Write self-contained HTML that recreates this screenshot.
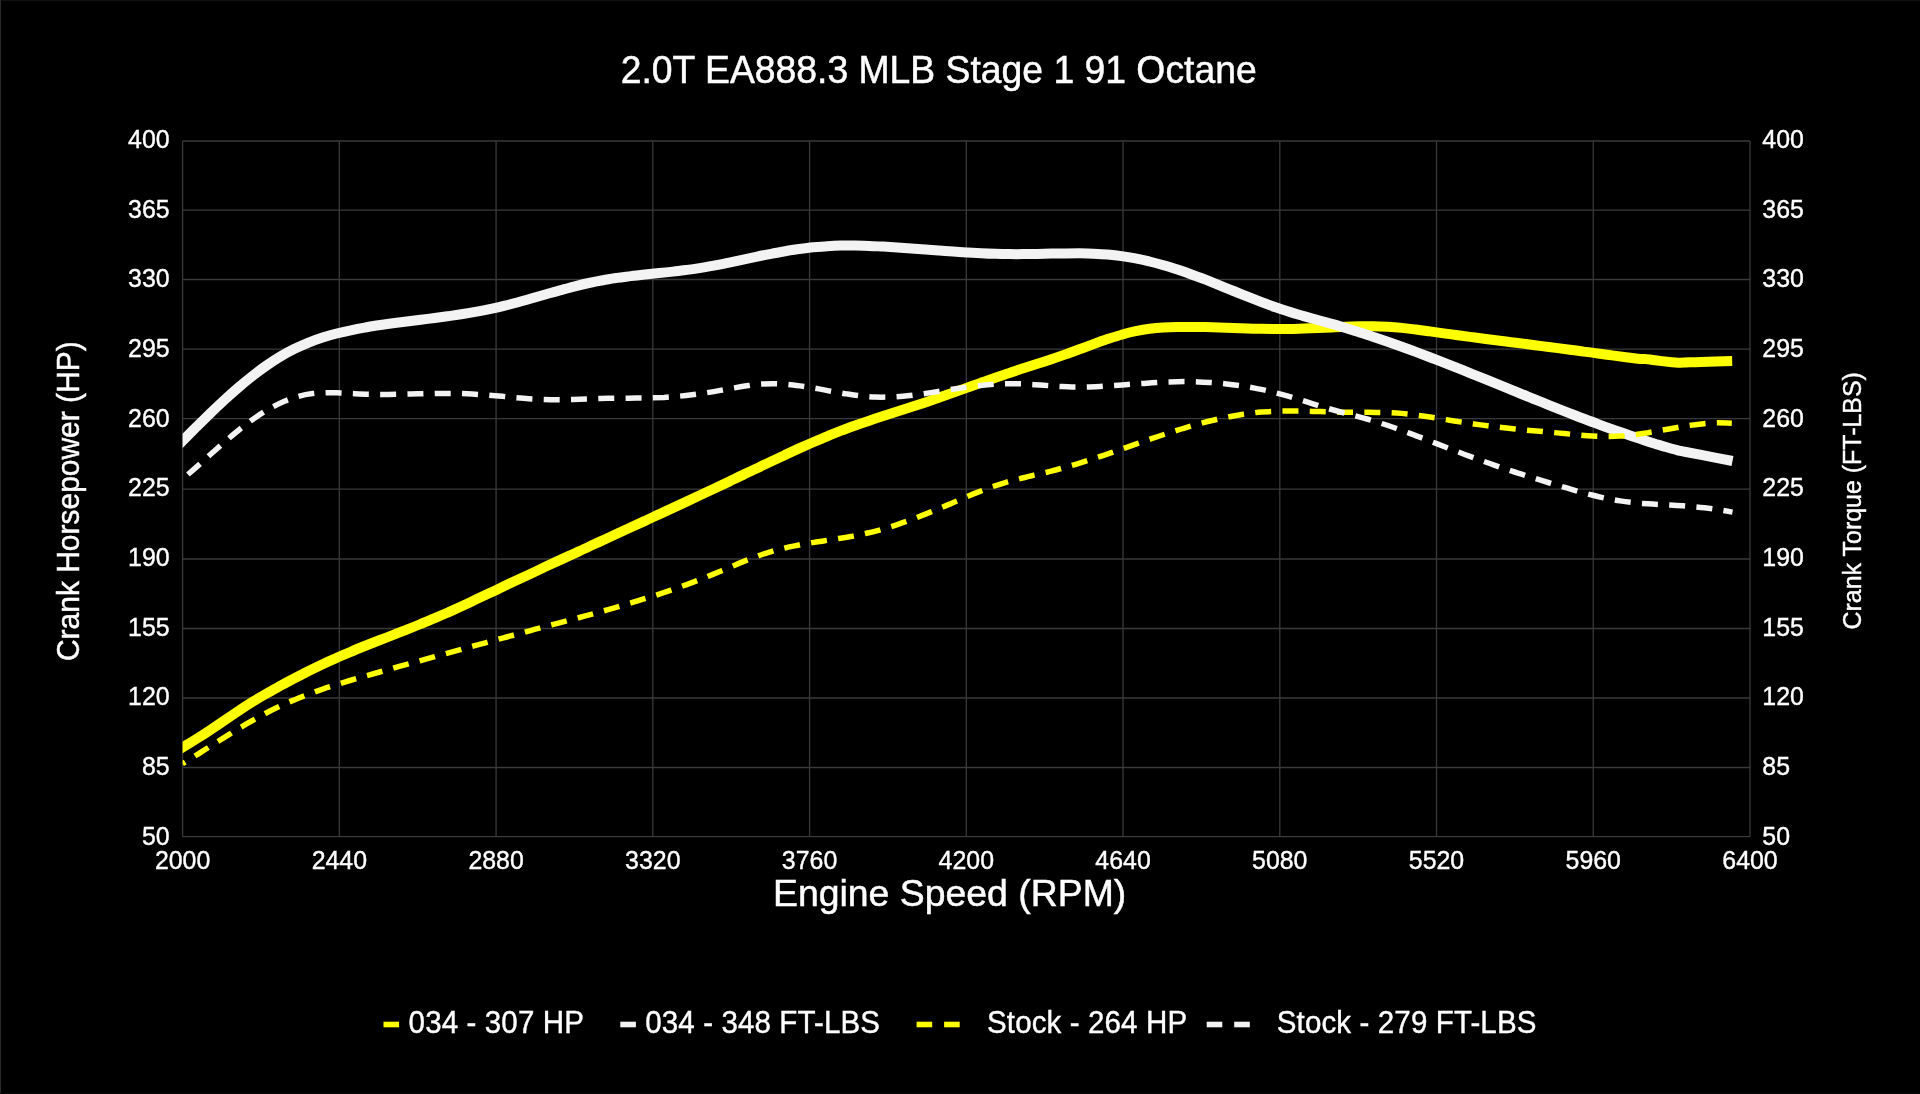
<!DOCTYPE html>
<html lang="en">
<head>
<meta charset="utf-8">
<title>2.0T EA888.3 MLB Stage 1 91 Octane</title>
<style>
html,body{margin:0;padding:0;background:#000;width:1920px;height:1094px;overflow:hidden}
svg{display:block;position:absolute;left:0;top:0;will-change:transform;filter:blur(0.45px)}
text{font-family:"Liberation Sans",sans-serif;fill:#fff}
.grid line{stroke:#3a3a3a;stroke-width:1.3}
.curve path{fill:none;stroke-linecap:butt;stroke-linejoin:round}
</style>
</head>
<body>
<svg width="1920" height="1094" viewBox="0 0 1920 1094" role="img" aria-label="Dyno chart: 2.0T EA888.3 MLB Stage 1 91 Octane">
<rect x="0" y="0" width="1920" height="1094" fill="#000"/>
<rect x="0" y="0" width="1920" height="1" fill="#111111"/>
<rect x="0" y="0" width="1" height="1094" fill="#2a2a2a"/>
<rect x="0" y="1093" width="1920" height="1" fill="#080808"/>
<g class="grid">
<line x1="182.60" y1="141.0" x2="182.60" y2="836.7"/>
<line x1="339.34" y1="141.0" x2="339.34" y2="836.7"/>
<line x1="496.08" y1="141.0" x2="496.08" y2="836.7"/>
<line x1="652.82" y1="141.0" x2="652.82" y2="836.7"/>
<line x1="809.56" y1="141.0" x2="809.56" y2="836.7"/>
<line x1="966.30" y1="141.0" x2="966.30" y2="836.7"/>
<line x1="1123.04" y1="141.0" x2="1123.04" y2="836.7"/>
<line x1="1279.78" y1="141.0" x2="1279.78" y2="836.7"/>
<line x1="1436.52" y1="141.0" x2="1436.52" y2="836.7"/>
<line x1="1593.26" y1="141.0" x2="1593.26" y2="836.7"/>
<line x1="1750.00" y1="141.0" x2="1750.00" y2="836.7"/>
<line x1="182.6" y1="141.00" x2="1750.0" y2="141.00"/>
<line x1="182.6" y1="210.10" x2="1750.0" y2="210.10"/>
<line x1="182.6" y1="279.50" x2="1750.0" y2="279.50"/>
<line x1="182.6" y1="349.20" x2="1750.0" y2="349.20"/>
<line x1="182.6" y1="418.60" x2="1750.0" y2="418.60"/>
<line x1="182.6" y1="489.20" x2="1750.0" y2="489.20"/>
<line x1="182.6" y1="559.00" x2="1750.0" y2="559.00"/>
<line x1="182.6" y1="628.50" x2="1750.0" y2="628.50"/>
<line x1="182.6" y1="698.00" x2="1750.0" y2="698.00"/>
<line x1="182.6" y1="767.50" x2="1750.0" y2="767.50"/>
<line x1="182.6" y1="836.70" x2="1750.0" y2="836.70"/>
</g>
<defs><clipPath id="pc"><rect x="182.6" y="141.0" width="1567.4" height="695.7"/></clipPath></defs>
<g class="curve" clip-path="url(#pc)">
<path d="M170.5,754.8C172.5,753.5 178.2,750.1 182.5,747.5C186.8,744.8 191.8,741.9 196.5,738.9C201.2,736.0 205.9,732.9 210.5,729.8C215.2,726.7 219.9,723.5 224.5,720.3C229.2,717.2 233.9,714.0 238.6,710.9C243.2,707.8 247.9,704.7 252.6,701.8C257.2,698.9 261.9,696.2 266.6,693.5C271.3,690.8 275.9,688.3 280.6,685.7C285.3,683.2 289.9,680.7 294.6,678.3C299.3,675.8 304.0,673.4 308.6,671.0C313.3,668.7 318.0,666.4 322.6,664.2C327.3,661.9 332.0,659.8 336.7,657.8C341.3,655.7 346.0,653.7 350.7,651.8C355.3,649.8 360.0,647.9 364.7,646.0C369.4,644.2 374.0,642.3 378.7,640.5C383.4,638.7 388.0,636.9 392.7,635.1C397.4,633.2 402.1,631.4 406.7,629.6C411.4,627.8 416.1,625.9 420.7,624.0C425.4,622.1 430.1,620.2 434.8,618.2C439.4,616.2 444.1,614.1 448.8,612.1C453.4,610.0 458.1,607.8 462.8,605.7C467.5,603.5 472.1,601.3 476.8,599.1C481.5,596.9 486.1,594.7 490.8,592.5C495.5,590.2 500.2,588.0 504.8,585.8C509.5,583.6 514.2,581.4 518.8,579.2C523.5,577.0 528.2,574.8 532.9,572.7C537.5,570.5 542.2,568.3 546.9,566.1C551.5,564.0 556.2,561.8 560.9,559.6C565.6,557.5 570.2,555.3 574.9,553.2C579.6,551.0 584.2,548.8 588.9,546.7C593.6,544.5 598.3,542.4 602.9,540.2C607.6,538.1 612.3,535.9 616.9,533.8C621.6,531.6 626.3,529.5 631.0,527.3C635.6,525.2 640.3,523.0 645.0,520.9C649.6,518.7 654.3,516.6 659.0,514.4C663.7,512.2 668.3,510.1 673.0,507.9C677.7,505.7 682.3,503.6 687.0,501.4C691.7,499.2 696.4,497.0 701.0,494.8C705.7,492.6 710.4,490.4 715.0,488.2C719.7,486.0 724.4,483.8 729.1,481.6C733.7,479.4 738.4,477.1 743.1,474.9C747.7,472.7 752.4,470.4 757.1,468.2C761.8,465.9 766.4,463.7 771.1,461.5C775.8,459.3 780.4,457.1 785.1,454.9C789.8,452.7 794.5,450.5 799.1,448.4C803.8,446.3 808.5,444.2 813.1,442.2C817.8,440.2 822.5,438.2 827.2,436.3C831.8,434.3 836.5,432.5 841.2,430.7C845.8,428.9 850.5,427.2 855.2,425.5C859.9,423.8 864.5,422.2 869.2,420.7C873.9,419.1 878.5,417.6 883.2,416.1C887.9,414.6 892.6,413.1 897.2,411.6C901.9,410.1 906.6,408.6 911.2,407.1C915.9,405.5 920.6,404.0 925.3,402.4C929.9,400.8 934.6,399.2 939.3,397.5C944.0,395.9 948.6,394.2 953.3,392.6C958.0,390.9 962.6,389.3 967.3,387.6C972.0,385.9 976.7,384.3 981.3,382.6C986.0,381.0 990.7,379.3 995.3,377.7C1000.0,376.1 1004.7,374.5 1009.4,373.0C1014.0,371.4 1018.7,369.9 1023.4,368.3C1028.0,366.8 1032.7,365.3 1037.4,363.8C1042.1,362.3 1046.7,360.8 1051.4,359.2C1056.1,357.7 1060.7,356.1 1065.4,354.4C1070.1,352.8 1074.8,351.0 1079.4,349.3C1084.1,347.6 1088.8,345.8 1093.4,344.1C1098.1,342.4 1102.8,340.7 1107.5,339.1C1112.1,337.6 1116.8,336.0 1121.5,334.7C1126.1,333.3 1130.8,332.1 1135.5,331.1C1140.2,330.2 1144.8,329.4 1149.5,328.8C1154.2,328.2 1158.8,327.8 1163.5,327.5C1168.2,327.2 1172.9,327.1 1177.5,327.0C1182.2,326.9 1186.9,326.9 1191.5,326.9C1196.2,326.9 1200.9,327.0 1205.6,327.1C1210.2,327.2 1214.9,327.4 1219.6,327.5C1224.2,327.6 1228.9,327.8 1233.6,328.0C1238.3,328.1 1242.9,328.3 1247.6,328.4C1252.3,328.6 1256.9,328.7 1261.6,328.8C1266.3,328.9 1271.0,329.0 1275.6,329.0C1280.3,329.0 1285.0,329.0 1289.6,328.9C1294.3,328.9 1299.0,328.7 1303.7,328.6C1308.3,328.4 1313.0,328.2 1317.7,328.0C1322.3,327.8 1327.0,327.6 1331.7,327.4C1336.4,327.1 1341.0,326.9 1345.7,326.7C1350.4,326.5 1355.0,326.4 1359.7,326.3C1364.4,326.2 1369.1,326.1 1373.7,326.2C1378.4,326.3 1383.1,326.5 1387.7,326.7C1392.4,327.0 1397.1,327.4 1401.8,327.9C1406.4,328.4 1411.1,329.0 1415.8,329.5C1420.4,330.1 1425.1,330.8 1429.8,331.4C1434.5,332.1 1439.1,332.7 1443.8,333.4C1448.5,334.0 1453.1,334.6 1457.8,335.3C1462.5,335.9 1467.2,336.5 1471.8,337.1C1476.5,337.7 1481.2,338.4 1485.8,339.0C1490.5,339.6 1495.2,340.2 1499.9,340.8C1504.5,341.4 1509.2,342.0 1513.9,342.5C1518.5,343.1 1523.2,343.7 1527.9,344.3C1532.6,344.9 1537.2,345.5 1541.9,346.1C1546.6,346.7 1551.2,347.3 1555.9,347.9C1560.6,348.5 1565.3,349.1 1569.9,349.7C1574.6,350.3 1579.3,350.9 1583.9,351.6C1588.6,352.2 1593.3,352.8 1598.0,353.5C1602.6,354.1 1607.3,354.7 1612.0,355.4C1616.6,356.0 1621.3,356.6 1626.0,357.2C1630.7,357.8 1636.8,358.6 1640.0,358.9C1643.2,359.2 1641.7,358.7 1645.0,359.0C1648.3,359.3 1655.5,360.4 1660.0,360.9C1664.5,361.4 1669.0,361.9 1672.0,362.2C1675.0,362.5 1676.0,362.6 1678.0,362.7C1680.0,362.8 1680.2,362.6 1684.0,362.5C1687.8,362.4 1693.0,362.1 1701.0,361.9C1709.0,361.6 1727.0,361.1 1732.2,361.0" stroke="#fdfd04" stroke-width="10"/>
<path d="M170.5,453.0C172.5,451.0 178.2,445.3 182.5,440.9C186.8,436.6 191.8,431.5 196.5,426.8C201.2,422.2 205.9,417.6 210.5,413.1C215.2,408.6 219.9,404.2 224.5,399.9C229.2,395.6 233.9,391.4 238.6,387.4C243.2,383.4 247.9,379.6 252.6,375.9C257.2,372.2 261.9,368.7 266.6,365.5C271.3,362.2 275.9,359.2 280.6,356.4C285.3,353.6 289.9,351.1 294.6,348.8C299.3,346.5 304.0,344.5 308.6,342.6C313.3,340.7 318.0,339.1 322.6,337.6C327.3,336.1 332.0,334.7 336.7,333.5C341.3,332.3 346.0,331.2 350.7,330.3C355.3,329.3 360.0,328.4 364.7,327.6C369.4,326.8 374.0,326.0 378.7,325.3C383.4,324.6 388.0,324.0 392.7,323.3C397.4,322.7 402.1,322.1 406.7,321.5C411.4,320.9 416.1,320.3 420.7,319.7C425.4,319.1 430.1,318.6 434.8,318.0C439.4,317.4 444.1,316.7 448.8,316.1C453.4,315.4 458.1,314.7 462.8,314.0C467.5,313.3 472.1,312.5 476.8,311.6C481.5,310.8 486.1,309.9 490.8,308.9C495.5,307.9 500.2,306.8 504.8,305.6C509.5,304.5 514.2,303.2 518.8,302.0C523.5,300.7 528.2,299.4 532.9,298.0C537.5,296.7 542.2,295.3 546.9,294.0C551.5,292.7 556.2,291.3 560.9,290.1C565.6,288.8 570.2,287.5 574.9,286.3C579.6,285.1 584.2,284.0 588.9,283.0C593.6,281.9 598.3,281.0 602.9,280.2C607.6,279.3 612.3,278.6 616.9,277.9C621.6,277.2 626.3,276.7 631.0,276.1C635.6,275.5 640.3,275.0 645.0,274.5C649.6,274.0 654.3,273.6 659.0,273.1C663.7,272.6 668.3,272.1 673.0,271.6C677.7,271.1 682.3,270.5 687.0,269.9C691.7,269.3 696.4,268.6 701.0,267.9C705.7,267.1 710.4,266.3 715.0,265.4C719.7,264.5 724.4,263.6 729.1,262.6C733.7,261.6 738.4,260.6 743.1,259.6C747.7,258.6 752.4,257.6 757.1,256.6C761.8,255.6 766.4,254.7 771.1,253.8C775.8,252.8 780.4,252.0 785.1,251.2C789.8,250.4 794.5,249.7 799.1,249.0C803.8,248.4 808.5,247.8 813.1,247.3C817.8,246.9 822.5,246.5 827.2,246.2C831.8,245.9 836.5,245.7 841.2,245.6C845.8,245.5 850.5,245.5 855.2,245.6C859.9,245.7 864.5,245.8 869.2,246.0C873.9,246.1 878.5,246.4 883.2,246.6C887.9,246.9 892.6,247.2 897.2,247.5C901.9,247.8 906.6,248.1 911.2,248.4C915.9,248.8 920.6,249.1 925.3,249.5C929.9,249.8 934.6,250.2 939.3,250.5C944.0,250.9 948.6,251.2 953.3,251.5C958.0,251.9 962.6,252.2 967.3,252.5C972.0,252.7 976.7,253.0 981.3,253.2C986.0,253.5 990.7,253.7 995.3,253.8C1000.0,254.0 1004.7,254.1 1009.4,254.1C1014.0,254.2 1018.7,254.2 1023.4,254.1C1028.0,254.1 1032.7,254.0 1037.4,253.9C1042.1,253.8 1046.7,253.7 1051.4,253.6C1056.1,253.5 1060.7,253.4 1065.4,253.4C1070.1,253.3 1074.8,253.3 1079.4,253.3C1084.1,253.4 1088.8,253.5 1093.4,253.7C1098.1,253.9 1102.8,254.1 1107.5,254.5C1112.1,254.9 1116.8,255.4 1121.5,256.1C1126.1,256.7 1130.8,257.5 1135.5,258.4C1140.2,259.3 1144.8,260.4 1149.5,261.5C1154.2,262.6 1158.8,263.9 1163.5,265.3C1168.2,266.6 1172.9,268.1 1177.5,269.6C1182.2,271.2 1186.9,272.8 1191.5,274.5C1196.2,276.1 1200.9,277.9 1205.6,279.7C1210.2,281.5 1214.9,283.4 1219.6,285.3C1224.2,287.1 1228.9,289.1 1233.6,291.0C1238.3,292.9 1242.9,294.8 1247.6,296.7C1252.3,298.5 1256.9,300.4 1261.6,302.2C1266.3,304.0 1271.0,305.7 1275.6,307.3C1280.3,308.9 1285.0,310.5 1289.6,311.9C1294.3,313.4 1299.0,314.7 1303.7,316.1C1308.3,317.4 1313.0,318.7 1317.7,320.0C1322.3,321.3 1327.0,322.6 1331.7,323.9C1336.4,325.2 1341.0,326.6 1345.7,328.0C1350.4,329.4 1355.0,330.9 1359.7,332.4C1364.4,333.8 1369.1,335.4 1373.7,336.9C1378.4,338.5 1383.1,340.1 1387.7,341.7C1392.4,343.4 1397.1,345.0 1401.8,346.7C1406.4,348.4 1411.1,350.2 1415.8,351.9C1420.4,353.6 1425.1,355.4 1429.8,357.2C1434.5,359.0 1439.1,360.8 1443.8,362.6C1448.5,364.5 1453.1,366.3 1457.8,368.2C1462.5,370.0 1467.2,371.9 1471.8,373.8C1476.5,375.6 1481.2,377.5 1485.8,379.4C1490.5,381.3 1495.2,383.2 1499.9,385.1C1504.5,387.0 1509.2,388.9 1513.9,390.8C1518.5,392.8 1523.2,394.7 1527.9,396.6C1532.6,398.5 1537.2,400.4 1541.9,402.2C1546.6,404.1 1551.2,406.0 1555.9,407.9C1560.6,409.7 1565.3,411.6 1569.9,413.4C1574.6,415.2 1579.3,417.1 1583.9,418.8C1588.6,420.6 1593.3,422.4 1598.0,424.1C1602.6,425.9 1607.3,427.6 1612.0,429.2C1616.6,430.9 1621.3,432.5 1626.0,434.1C1630.7,435.7 1635.6,437.3 1640.0,438.8C1644.4,440.3 1648.2,441.7 1652.5,443.1C1656.8,444.5 1662.2,445.9 1666.0,447.0C1669.8,448.1 1672.7,448.9 1675.0,449.5C1677.3,450.1 1678.2,450.4 1680.0,450.8C1681.8,451.2 1682.2,451.3 1686.0,452.0C1689.8,452.7 1694.8,453.7 1702.5,455.2C1710.2,456.7 1727.5,460.0 1732.5,461.0" stroke="#f3f3f3" stroke-width="10"/>
<path d="M182.5,763.7C184.8,762.3 191.8,758.0 196.5,755.0C201.1,752.1 205.8,749.2 210.4,746.2C215.1,743.3 219.7,740.3 224.4,737.4C229.0,734.5 233.7,731.6 238.3,728.8C243.0,726.0 247.6,723.3 252.3,720.6C256.9,718.0 261.6,715.4 266.2,713.0C270.9,710.5 275.6,708.2 280.2,706.1C284.9,703.9 289.5,701.8 294.2,699.9C298.8,697.9 303.5,696.1 308.1,694.4C312.8,692.6 317.4,690.9 322.1,689.3C326.7,687.7 331.4,686.2 336.0,684.8C340.7,683.3 345.3,681.9 350.0,680.5C354.6,679.1 359.3,677.8 363.9,676.4C368.6,675.1 373.3,673.8 377.9,672.5C382.6,671.2 387.2,669.9 391.9,668.6C396.5,667.2 401.2,665.9 405.8,664.7C410.5,663.4 415.1,662.1 419.8,660.8C424.4,659.5 429.1,658.2 433.7,656.9C438.4,655.6 443.0,654.3 447.7,653.1C452.3,651.8 457.0,650.5 461.7,649.2C466.3,648.0 471.0,646.7 475.6,645.4C480.3,644.2 484.9,642.9 489.6,641.6C494.2,640.4 498.9,639.1 503.5,637.8C508.2,636.6 512.8,635.3 517.5,634.1C522.1,632.8 526.8,631.6 531.4,630.3C536.1,629.1 540.7,627.8 545.4,626.6C550.1,625.3 554.7,624.1 559.4,622.8C564.0,621.6 568.7,620.4 573.3,619.1C578.0,617.9 582.6,616.6 587.3,615.4C591.9,614.1 596.6,612.8 601.2,611.5C605.9,610.2 610.5,608.9 615.2,607.6C619.8,606.2 624.5,604.9 629.1,603.5C633.8,602.1 638.5,600.7 643.1,599.2C647.8,597.8 652.4,596.3 657.1,594.8C661.7,593.3 666.4,591.7 671.0,590.1C675.7,588.5 680.3,586.9 685.0,585.2C689.6,583.5 694.3,581.8 698.9,580.0C703.6,578.2 708.2,576.3 712.9,574.4C717.5,572.5 722.2,570.5 726.8,568.5C731.5,566.6 736.2,564.5 740.8,562.6C745.5,560.7 750.1,558.8 754.8,557.1C759.4,555.3 764.1,553.7 768.7,552.3C773.4,550.9 778.0,549.6 782.7,548.5C787.3,547.3 792.0,546.4 796.6,545.5C801.3,544.5 805.9,543.7 810.6,542.9C815.2,542.2 819.9,541.5 824.6,540.7C829.2,540.0 833.9,539.3 838.5,538.5C843.2,537.8 847.8,537.0 852.5,536.2C857.1,535.3 861.8,534.4 866.4,533.3C871.1,532.3 875.7,531.1 880.4,529.8C885.0,528.5 889.7,527.1 894.3,525.6C899.0,524.1 903.6,522.4 908.3,520.7C913.0,519.1 917.6,517.3 922.3,515.4C926.9,513.6 931.6,511.7 936.2,509.8C940.9,507.8 945.5,505.8 950.2,503.9C954.8,501.9 959.5,499.8 964.1,497.9C968.8,495.9 973.4,493.9 978.1,492.1C982.7,490.2 987.4,488.4 992.0,486.8C996.7,485.2 1001.3,483.7 1006.0,482.3C1010.7,480.9 1015.3,479.7 1020.0,478.6C1024.6,477.4 1029.3,476.3 1033.9,475.2C1038.6,474.1 1043.2,473.1 1047.9,472.0C1052.5,470.8 1057.2,469.6 1061.8,468.3C1066.5,467.1 1071.1,465.7 1075.8,464.3C1080.4,462.9 1085.1,461.4 1089.7,459.9C1094.4,458.4 1099.1,456.8 1103.7,455.3C1108.4,453.7 1113.0,452.1 1117.7,450.5C1122.3,448.8 1127.0,447.2 1131.6,445.6C1136.3,444.0 1140.9,442.3 1145.6,440.7C1150.2,439.1 1154.9,437.5 1159.5,436.0C1164.2,434.4 1168.8,432.9 1173.5,431.4C1178.1,429.9 1182.8,428.5 1187.5,427.1C1192.1,425.7 1196.8,424.4 1201.4,423.2C1206.1,421.9 1210.7,420.8 1215.4,419.7C1220.0,418.6 1224.7,417.6 1229.3,416.7C1234.0,415.7 1238.6,414.9 1243.3,414.2C1247.9,413.5 1252.6,412.9 1257.2,412.4C1261.9,412.0 1266.5,411.6 1271.2,411.4C1275.8,411.1 1280.5,411.0 1285.2,411.0C1289.8,410.9 1294.5,411.0 1299.1,411.0C1303.8,411.1 1308.4,411.2 1313.1,411.4C1317.7,411.5 1322.4,411.7 1327.0,411.8C1331.7,411.9 1336.3,412.1 1341.0,412.2C1345.6,412.3 1350.3,412.3 1354.9,412.3C1359.6,412.3 1364.2,412.3 1368.9,412.3C1373.6,412.4 1378.2,412.4 1382.9,412.5C1387.5,412.6 1392.2,412.8 1396.8,413.1C1401.5,413.4 1406.1,413.9 1410.8,414.4C1415.4,414.9 1420.1,415.6 1424.7,416.2C1429.4,416.9 1434.0,417.7 1438.7,418.4C1443.3,419.1 1448.0,419.9 1452.6,420.7C1457.3,421.4 1462.0,422.2 1466.6,422.9C1471.3,423.6 1475.9,424.2 1480.6,424.9C1485.2,425.5 1489.9,426.1 1494.5,426.7C1499.2,427.3 1503.8,427.8 1508.5,428.3C1513.1,428.8 1517.8,429.3 1522.4,429.7C1527.1,430.2 1531.7,430.6 1536.4,431.0C1541.0,431.4 1545.7,431.8 1550.4,432.3C1555.0,432.7 1559.7,433.1 1564.3,433.6C1569.0,434.0 1573.6,434.5 1578.3,434.9C1582.9,435.3 1587.6,435.7 1592.2,436.0C1596.9,436.2 1601.5,436.5 1606.2,436.5C1610.8,436.5 1615.5,436.4 1620.1,436.1C1624.8,435.8 1629.4,435.3 1634.1,434.7C1638.7,434.2 1643.4,433.4 1648.1,432.7C1652.7,431.9 1657.4,431.0 1662.0,430.2C1666.7,429.4 1671.3,428.5 1676.0,427.7C1680.6,426.9 1685.3,426.1 1689.9,425.4C1694.6,424.7 1699.2,424.1 1703.9,423.7C1708.5,423.3 1713.2,422.9 1717.8,422.8C1722.5,422.8 1729.5,423.1 1731.8,423.2" stroke="#fdfd04" stroke-width="5.5" stroke-dasharray="16 11.3" stroke-dashoffset="12.8"/>
<path d="M186.0,476.2C188.3,474.2 195.4,468.0 200.1,463.8C204.7,459.6 209.4,455.3 214.1,451.2C218.8,447.0 223.5,442.8 228.2,438.9C232.9,434.9 237.6,430.9 242.2,427.3C246.9,423.6 251.6,420.1 256.3,416.9C261.0,413.7 265.7,410.8 270.4,408.2C275.0,405.6 279.7,403.3 284.4,401.3C289.1,399.3 293.8,397.7 298.5,396.4C303.2,395.1 307.8,394.2 312.5,393.6C317.2,393.0 321.9,392.8 326.6,392.7C331.3,392.6 336.0,392.8 340.6,392.9C345.3,393.1 350.0,393.5 354.7,393.7C359.4,393.9 364.1,394.1 368.8,394.2C373.5,394.3 378.1,394.4 382.8,394.4C387.5,394.4 392.2,394.3 396.9,394.2C401.6,394.2 406.3,394.1 410.9,394.0C415.6,393.9 420.3,393.7 425.0,393.6C429.7,393.6 434.4,393.5 439.1,393.4C443.8,393.4 448.4,393.4 453.1,393.4C457.8,393.5 462.5,393.6 467.2,393.8C471.9,394.0 476.6,394.3 481.2,394.6C485.9,394.9 490.6,395.3 495.3,395.7C500.0,396.1 504.7,396.6 509.4,397.0C514.0,397.4 518.7,397.9 523.4,398.2C528.1,398.6 532.8,399.0 537.5,399.2C542.2,399.5 546.9,399.6 551.5,399.7C556.2,399.8 560.9,399.8 565.6,399.7C570.3,399.6 575.0,399.4 579.7,399.3C584.3,399.1 589.0,398.9 593.7,398.7C598.4,398.6 603.1,398.4 607.8,398.3C612.5,398.2 617.1,398.2 621.8,398.2C626.5,398.1 631.2,398.2 635.9,398.1C640.6,398.1 645.3,398.1 650.0,397.9C654.6,397.8 659.3,397.6 664.0,397.4C668.7,397.1 673.4,396.7 678.1,396.3C682.8,395.9 687.4,395.4 692.1,394.8C696.8,394.2 701.5,393.5 706.2,392.8C710.9,392.1 715.6,391.3 720.2,390.4C724.9,389.6 729.6,388.7 734.3,387.9C739.0,387.0 743.7,386.2 748.4,385.6C753.0,384.9 757.7,384.3 762.4,384.0C767.1,383.7 771.8,383.6 776.5,383.7C781.2,383.8 785.9,384.2 790.5,384.7C795.2,385.1 799.9,385.8 804.6,386.5C809.3,387.2 814.0,388.1 818.7,388.9C823.3,389.7 828.0,390.7 832.7,391.5C837.4,392.3 842.1,393.2 846.8,393.9C851.5,394.6 856.1,395.3 860.8,395.8C865.5,396.3 870.2,396.8 874.9,397.0C879.6,397.2 884.3,397.2 889.0,397.0C893.6,396.9 898.3,396.6 903.0,396.2C907.7,395.8 912.4,395.2 917.1,394.6C921.8,394.0 926.4,393.3 931.1,392.6C935.8,391.9 940.5,391.2 945.2,390.4C949.9,389.7 954.6,388.9 959.2,388.2C963.9,387.6 968.6,386.9 973.3,386.3C978.0,385.7 982.7,385.2 987.4,384.8C992.1,384.4 996.7,384.0 1001.4,383.9C1006.1,383.7 1010.8,383.6 1015.5,383.7C1020.2,383.8 1024.9,384.0 1029.5,384.3C1034.2,384.5 1038.9,384.9 1043.6,385.3C1048.3,385.6 1053.0,386.0 1057.7,386.3C1062.3,386.5 1067.0,386.8 1071.7,386.9C1076.4,387.0 1081.1,386.9 1085.8,386.9C1090.5,386.8 1095.2,386.6 1099.8,386.4C1104.5,386.1 1109.2,385.8 1113.9,385.5C1118.6,385.2 1123.3,384.9 1128.0,384.5C1132.6,384.2 1137.3,383.8 1142.0,383.5C1146.7,383.2 1151.4,382.8 1156.1,382.6C1160.8,382.3 1165.4,382.0 1170.1,381.9C1174.8,381.7 1179.5,381.6 1184.2,381.6C1188.9,381.6 1193.6,381.7 1198.3,381.9C1202.9,382.1 1207.6,382.3 1212.3,382.6C1217.0,383.0 1221.7,383.4 1226.4,383.9C1231.1,384.4 1235.7,385.0 1240.4,385.7C1245.1,386.4 1249.8,387.2 1254.5,388.1C1259.2,389.0 1263.9,389.9 1268.5,391.0C1273.2,392.1 1277.9,393.3 1282.6,394.6C1287.3,395.8 1292.0,397.2 1296.7,398.7C1301.4,400.1 1306.0,401.6 1310.7,403.1C1315.4,404.5 1320.1,406.1 1324.8,407.5C1329.5,408.9 1334.2,410.2 1338.8,411.5C1343.5,412.8 1348.2,413.9 1352.9,415.2C1357.6,416.4 1362.3,417.6 1367.0,419.0C1371.7,420.3 1376.3,421.8 1381.0,423.3C1385.7,424.8 1390.4,426.4 1395.1,428.0C1399.8,429.7 1404.5,431.4 1409.1,433.1C1413.8,434.9 1418.5,436.7 1423.2,438.4C1427.9,440.2 1432.6,442.1 1437.3,443.9C1441.9,445.7 1446.6,447.5 1451.3,449.3C1456.0,451.1 1460.7,452.9 1465.4,454.7C1470.1,456.4 1474.8,458.2 1479.4,459.8C1484.1,461.5 1488.8,463.2 1493.5,464.8C1498.2,466.5 1502.9,468.1 1507.6,469.6C1512.2,471.2 1516.9,472.7 1521.6,474.2C1526.3,475.8 1531.0,477.3 1535.7,478.7C1540.4,480.2 1545.0,481.6 1549.7,483.0C1554.4,484.4 1559.1,485.8 1563.8,487.2C1568.5,488.6 1573.2,489.9 1577.8,491.2C1582.5,492.5 1587.2,493.8 1591.9,495.0C1596.6,496.2 1601.3,497.3 1606.0,498.3C1610.7,499.3 1615.3,500.2 1620.0,500.9C1624.7,501.6 1629.4,502.2 1634.1,502.7C1638.8,503.2 1643.5,503.5 1648.1,503.8C1652.8,504.2 1657.5,504.4 1662.2,504.6C1666.9,504.9 1671.6,505.1 1676.3,505.4C1681.0,505.7 1685.6,506.0 1690.3,506.4C1695.0,506.8 1699.7,507.2 1704.4,507.8C1709.1,508.3 1713.8,508.9 1718.4,509.6C1723.1,510.4 1730.2,511.7 1732.5,512.1" stroke="#f3f3f3" stroke-width="5.5" stroke-dasharray="16 11.3" stroke-dashoffset="-2.7"/>
</g>
<g class="tick">
<text transform="translate(169.60,148.15) scale(0.94,1)" font-size="26.5" text-anchor="end" stroke="#fff" stroke-width="0.4">400</text>
<text transform="translate(1762.30,148.15) scale(0.94,1)" font-size="26.5" text-anchor="start" stroke="#fff" stroke-width="0.4">400</text>
<text transform="translate(169.60,217.79) scale(0.94,1)" font-size="26.5" text-anchor="end" stroke="#fff" stroke-width="0.4">365</text>
<text transform="translate(1762.30,217.79) scale(0.94,1)" font-size="26.5" text-anchor="start" stroke="#fff" stroke-width="0.4">365</text>
<text transform="translate(169.60,287.42) scale(0.94,1)" font-size="26.5" text-anchor="end" stroke="#fff" stroke-width="0.4">330</text>
<text transform="translate(1762.30,287.42) scale(0.94,1)" font-size="26.5" text-anchor="start" stroke="#fff" stroke-width="0.4">330</text>
<text transform="translate(169.60,357.06) scale(0.94,1)" font-size="26.5" text-anchor="end" stroke="#fff" stroke-width="0.4">295</text>
<text transform="translate(1762.30,357.06) scale(0.94,1)" font-size="26.5" text-anchor="start" stroke="#fff" stroke-width="0.4">295</text>
<text transform="translate(169.60,426.69) scale(0.94,1)" font-size="26.5" text-anchor="end" stroke="#fff" stroke-width="0.4">260</text>
<text transform="translate(1762.30,426.69) scale(0.94,1)" font-size="26.5" text-anchor="start" stroke="#fff" stroke-width="0.4">260</text>
<text transform="translate(169.60,496.33) scale(0.94,1)" font-size="26.5" text-anchor="end" stroke="#fff" stroke-width="0.4">225</text>
<text transform="translate(1762.30,496.33) scale(0.94,1)" font-size="26.5" text-anchor="start" stroke="#fff" stroke-width="0.4">225</text>
<text transform="translate(169.60,565.96) scale(0.94,1)" font-size="26.5" text-anchor="end" stroke="#fff" stroke-width="0.4">190</text>
<text transform="translate(1762.30,565.96) scale(0.94,1)" font-size="26.5" text-anchor="start" stroke="#fff" stroke-width="0.4">190</text>
<text transform="translate(169.60,635.60) scale(0.94,1)" font-size="26.5" text-anchor="end" stroke="#fff" stroke-width="0.4">155</text>
<text transform="translate(1762.30,635.60) scale(0.94,1)" font-size="26.5" text-anchor="start" stroke="#fff" stroke-width="0.4">155</text>
<text transform="translate(169.60,705.23) scale(0.94,1)" font-size="26.5" text-anchor="end" stroke="#fff" stroke-width="0.4">120</text>
<text transform="translate(1762.30,705.23) scale(0.94,1)" font-size="26.5" text-anchor="start" stroke="#fff" stroke-width="0.4">120</text>
<text transform="translate(169.60,774.87) scale(0.94,1)" font-size="26.5" text-anchor="end" stroke="#fff" stroke-width="0.4">85</text>
<text transform="translate(1762.30,774.87) scale(0.94,1)" font-size="26.5" text-anchor="start" stroke="#fff" stroke-width="0.4">85</text>
<text transform="translate(169.60,844.50) scale(0.94,1)" font-size="26.5" text-anchor="end" stroke="#fff" stroke-width="0.4">50</text>
<text transform="translate(1762.30,844.50) scale(0.94,1)" font-size="26.5" text-anchor="start" stroke="#fff" stroke-width="0.4">50</text>
<text transform="translate(182.60,869.40) scale(0.94,1)" font-size="26.5" text-anchor="middle" stroke="#fff" stroke-width="0.4">2000</text>
<text transform="translate(339.34,869.40) scale(0.94,1)" font-size="26.5" text-anchor="middle" stroke="#fff" stroke-width="0.4">2440</text>
<text transform="translate(496.08,869.40) scale(0.94,1)" font-size="26.5" text-anchor="middle" stroke="#fff" stroke-width="0.4">2880</text>
<text transform="translate(652.82,869.40) scale(0.94,1)" font-size="26.5" text-anchor="middle" stroke="#fff" stroke-width="0.4">3320</text>
<text transform="translate(809.56,869.40) scale(0.94,1)" font-size="26.5" text-anchor="middle" stroke="#fff" stroke-width="0.4">3760</text>
<text transform="translate(966.30,869.40) scale(0.94,1)" font-size="26.5" text-anchor="middle" stroke="#fff" stroke-width="0.4">4200</text>
<text transform="translate(1123.04,869.40) scale(0.94,1)" font-size="26.5" text-anchor="middle" stroke="#fff" stroke-width="0.4">4640</text>
<text transform="translate(1279.78,869.40) scale(0.94,1)" font-size="26.5" text-anchor="middle" stroke="#fff" stroke-width="0.4">5080</text>
<text transform="translate(1436.52,869.40) scale(0.94,1)" font-size="26.5" text-anchor="middle" stroke="#fff" stroke-width="0.4">5520</text>
<text transform="translate(1593.26,869.40) scale(0.94,1)" font-size="26.5" text-anchor="middle" stroke="#fff" stroke-width="0.4">5960</text>
<text transform="translate(1750.00,869.40) scale(0.94,1)" font-size="26.5" text-anchor="middle" stroke="#fff" stroke-width="0.4">6400</text>
</g>
<text transform="translate(938.70,83.40) scale(0.982,1)" font-size="38" text-anchor="middle" stroke="#fff" stroke-width="0.5">2.0T EA888.3 MLB Stage 1 91 Octane</text>
<text transform="translate(949.60,906.10) scale(0.997,1)" font-size="37.5" text-anchor="middle" stroke="#fff" stroke-width="0.5">Engine Speed (RPM)</text>
<text transform="translate(78.80,501.20) rotate(-90) scale(0.973,1)" font-size="30.8" text-anchor="middle" stroke="#fff" stroke-width="0.45">Crank Horsepower (HP)</text>
<text transform="translate(1861.20,500.80) rotate(-90) scale(0.975,1)" font-size="25.6" text-anchor="middle" stroke="#fff" stroke-width="0.4">Crank Torque (FT-LBS)</text>
<g class="legend">
<rect x="383.5" y="1021.7" width="15.6" height="5.6" fill="#fdfd04"/>
<text transform="translate(408.60,1033.40) scale(0.965,1)" font-size="30.6" text-anchor="start" stroke="#fff" stroke-width="0.4" letter-spacing="0.13">034 - 307 HP</text>
<rect x="620.3" y="1021.7" width="15.6" height="5.6" fill="#f3f3f3"/>
<text transform="translate(645.20,1033.40) scale(0.965,1)" font-size="30.6" text-anchor="start" stroke="#fff" stroke-width="0.4" letter-spacing="0.13">034 - 348 FT-LBS</text>
<rect x="916.6" y="1021.7" width="15.6" height="5.6" fill="#fdfd04"/><rect x="944.1" y="1021.7" width="15.6" height="5.6" fill="#fdfd04"/>
<text transform="translate(987.00,1033.40) scale(0.965,1)" font-size="30.6" text-anchor="start" stroke="#fff" stroke-width="0.4" letter-spacing="0.13">Stock - 264 HP</text>
<rect x="1206.7" y="1021.7" width="15.6" height="5.6" fill="#f3f3f3"/><rect x="1234.2" y="1021.7" width="15.6" height="5.6" fill="#f3f3f3"/>
<text transform="translate(1276.80,1033.40) scale(0.965,1)" font-size="30.6" text-anchor="start" stroke="#fff" stroke-width="0.4" letter-spacing="0.13">Stock - 279 FT-LBS</text>
</g>
</svg>
</body>
</html>
